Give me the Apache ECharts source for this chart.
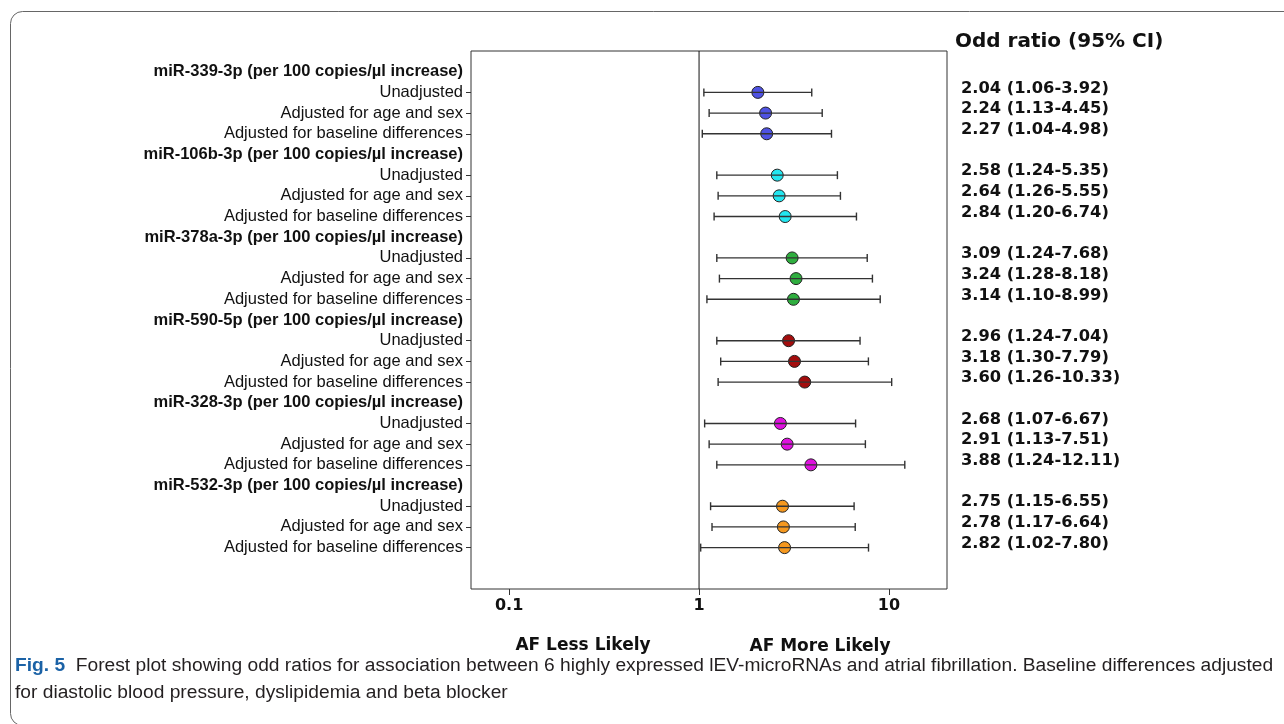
<!DOCTYPE html>
<html><head><meta charset="utf-8">
<script src="https://cdn.jsdelivr.net/npm/echarts@6/dist/echarts.min.js"></script>
<style>html,body{margin:0;padding:0;background:#fff}#c{width:1284px;height:724px}</style>
</head><body><div id="c"></div>
<script>
// ---- data ----
const groupNames = [
  'miR-339-3p (per 100 copies/µl increase)',
  'miR-106b-3p (per 100 copies/µl increase)',
  'miR-378a-3p (per 100 copies/µl increase)',
  'miR-590-5p (per 100 copies/µl increase)',
  'miR-328-3p (per 100 copies/µl increase)',
  'miR-532-3p (per 100 copies/µl increase)'
];
const modelNames = ['Unadjusted', 'Adjusted for age and sex', 'Adjusted for baseline differences'];
const oddsRatio = [[2.04, 2.24, 2.27], [2.58, 2.64, 2.84], [3.09, 3.24, 3.14], [2.96, 3.18, 3.60], [2.68, 2.91, 3.88], [2.75, 2.78, 2.82]];
const ciLower   = [[1.06, 1.13, 1.04], [1.24, 1.26, 1.20], [1.24, 1.28, 1.10], [1.24, 1.30, 1.26], [1.07, 1.13, 1.24], [1.15, 1.17, 1.02]];
const ciUpper   = [[3.92, 4.45, 4.98], [5.35, 5.55, 6.74], [7.68, 8.18, 8.99], [7.04, 7.79, 10.33], [6.67, 7.51, 12.11], [6.55, 6.64, 7.80]];
const xTickLabels = ['0.1', '1', '10'];
const referenceOR = 1;
const columnTitle = 'Odd ratio (95% CI)';
const sideLabels = ['AF Less Likely', 'AF More Likely'];
const captionHead = 'Fig. 5';
const captionLine1 = 'Forest plot showing odd ratios for association between 6 highly expressed lEV-microRNAs and atrial fibrillation. Baseline differences adjusted';
const captionLine2 = 'for diastolic blood pressure, dyslipidemia and beta blocker';

// ---- styles ----
const groupColors = ['#4f52e3', '#22e6f0', '#2fae3f', '#a30d0d', '#df12df', '#f5981f'];
const sans = "'Liberation Sans', Arial, sans-serif";
const wide = "'DejaVu Sans', sans-serif";

// ---- build rows (category axis) ----
const rowKeys = [], rowText = [], rowKind = [], rowOR = [];
function addRow(kind, text, orText) { rowKeys.push('r' + rowKeys.length); rowKind.push(kind); rowText.push(text); rowOR.push(orText || ''); }
const points = [], bars = [];
addRow('blank', '');
groupNames.forEach((g, gi) => {
  addRow('head', g);
  modelNames.forEach((m, mi) => {
    const idx = rowKeys.length;
    addRow('item', m, oddsRatio[gi][mi].toFixed(2) + ' (' + ciLower[gi][mi].toFixed(2) + '-' + ciUpper[gi][mi].toFixed(2) + ')');
    points.push({ value: [oddsRatio[gi][mi], idx], itemStyle: { color: groupColors[gi] } });
    bars.push([ciLower[gi][mi], ciUpper[gi][mi], idx]);
  });
});
addRow('blank', ''); addRow('blank', '');

const chart = echarts.init(document.getElementById('c'), null, { renderer: 'canvas' });
chart.setOption({
  animation: false,
  backgroundColor: '#fff',
  title: { text: columnTitle, left: 950, top: 27, textStyle: { fontFamily: wide, fontWeight: 'bold', fontSize: 20, color: '#111' } },
  grid: { left: 471, right: 337, top: 51, bottom: 135, show: true, borderColor: '#333', borderWidth: 1, backgroundColor: 'transparent' },
  xAxis: {
    type: 'log', logBase: 10, min: 0.063, max: 20.2,
    splitLine: { show: false },
    axisLine: { show: false },
    axisTick: { show: true, length: 6, lineStyle: { color: '#333' }, customValues: xTickLabels.map(Number) },
    axisLabel: { customValues: xTickLabels.map(Number), formatter: v => { const i = xTickLabels.map(Number).findIndex(t => Math.abs(t - v) < 1e-9); return i >= 0 ? xTickLabels[i] : ''; },
      fontFamily: wide, fontWeight: 'bold', fontSize: 16, color: '#111', margin: 9 }
  },
  yAxis: [{
    type: 'category', inverse: true, boundaryGap: false, data: rowKeys,
    axisLine: { show: false }, splitLine: { show: false },
    axisTick: { show: true, length: 5, interval: (i) => rowKind[i] === 'item', lineStyle: { color: '#333' } },
    axisLabel: {
      interval: 0, margin: 8,
      formatter: (v, i) => rowKind[i] === 'head' ? '{h|' + rowText[i] + '}' : rowKind[i] === 'item' ? '{n|' + rowText[i] + '}' : '',
      rich: {
        h: { fontFamily: sans, fontWeight: 'bold', fontSize: 16.5, color: '#111' },
        n: { fontFamily: sans, fontSize: 16.5, color: '#111' }
      }
    }
  }, {
    type: 'category', inverse: true, boundaryGap: false, data: rowKeys, position: 'right',
    axisLine: { show: false }, axisTick: { show: false }, splitLine: { show: false },
    axisLabel: { interval: 0, margin: 14, verticalAlign: 'bottom', lineHeight: 8, formatter: (v, i) => rowOR[i],
      fontFamily: wide, fontWeight: 'bold', fontSize: 16.3, color: '#111' }
  }],
  series: [{
    type: 'custom', yAxisIndex: 0, z: 1, data: [[referenceOR, 0]], encode: { x: 0, y: 1 }, silent: true,
    renderItem: (params, api) => {
      const cs = params.coordSys;
      const x = api.coord([api.value(0), 0])[0];
      return { type: 'line', shape: { x1: x, y1: cs.y, x2: x, y2: cs.y + cs.height }, style: { stroke: '#111', lineWidth: 1 } };
    }
  }, {
    type: 'scatter', yAxisIndex: 0, z: 3, symbolSize: 12, data: points,
    itemStyle: { borderColor: '#222', borderWidth: 1, opacity: 1 }
  }, {
    type: 'custom', yAxisIndex: 0, z: 4, data: bars, encode: { x: [0, 1], y: 2 },
    renderItem: (params, api) => {
      const y = api.value(2);
      const p1 = api.coord([api.value(0), y]);
      const p2 = api.coord([api.value(1), y]);
      const h = 4, st = { stroke: '#333', lineWidth: 1.4 };
      return { type: 'group', children: [
        { type: 'line', shape: { x1: p1[0], y1: p1[1], x2: p2[0], y2: p2[1] }, style: st },
        { type: 'line', shape: { x1: p1[0], y1: p1[1] - h, x2: p1[0], y2: p1[1] + h }, style: st },
        { type: 'line', shape: { x1: p2[0], y1: p2[1] - h, x2: p2[0], y2: p2[1] + h }, style: st }
      ] };
    }
  }],
  graphic: [
    { type: 'rect', silent: true, z: -10, shape: { x: 10.5, y: 11.5, width: 1300, height: 714, r: 12 }, style: { fill: 'none', stroke: '#666', lineWidth: 1 } },
    { type: 'text', x: 583, y: 646, style: { text: sideLabels[0], align: 'center', verticalAlign: 'middle', font: "bold 17px 'DejaVu Sans'", fill: '#111' } },
    { type: 'text', x: 820, y: 647, style: { text: sideLabels[1], align: 'center', verticalAlign: 'middle', font: "bold 17px 'DejaVu Sans'", fill: '#111' } },
    { type: 'text', x: 15, y: 666, style: { text: '{b|' + captionHead + '}  ' + captionLine1, verticalAlign: 'middle', font: "19.2px " + sans, fill: '#231f20',
        rich: { b: { fontFamily: sans, fontWeight: 'bold', fontSize: 19.2, fill: '#1b62a6' } } } },
    { type: 'text', x: 15, y: 693, style: { text: captionLine2, verticalAlign: 'middle', font: "19.2px " + sans, fill: '#231f20' } }
  ]
});
</script></body></html>
